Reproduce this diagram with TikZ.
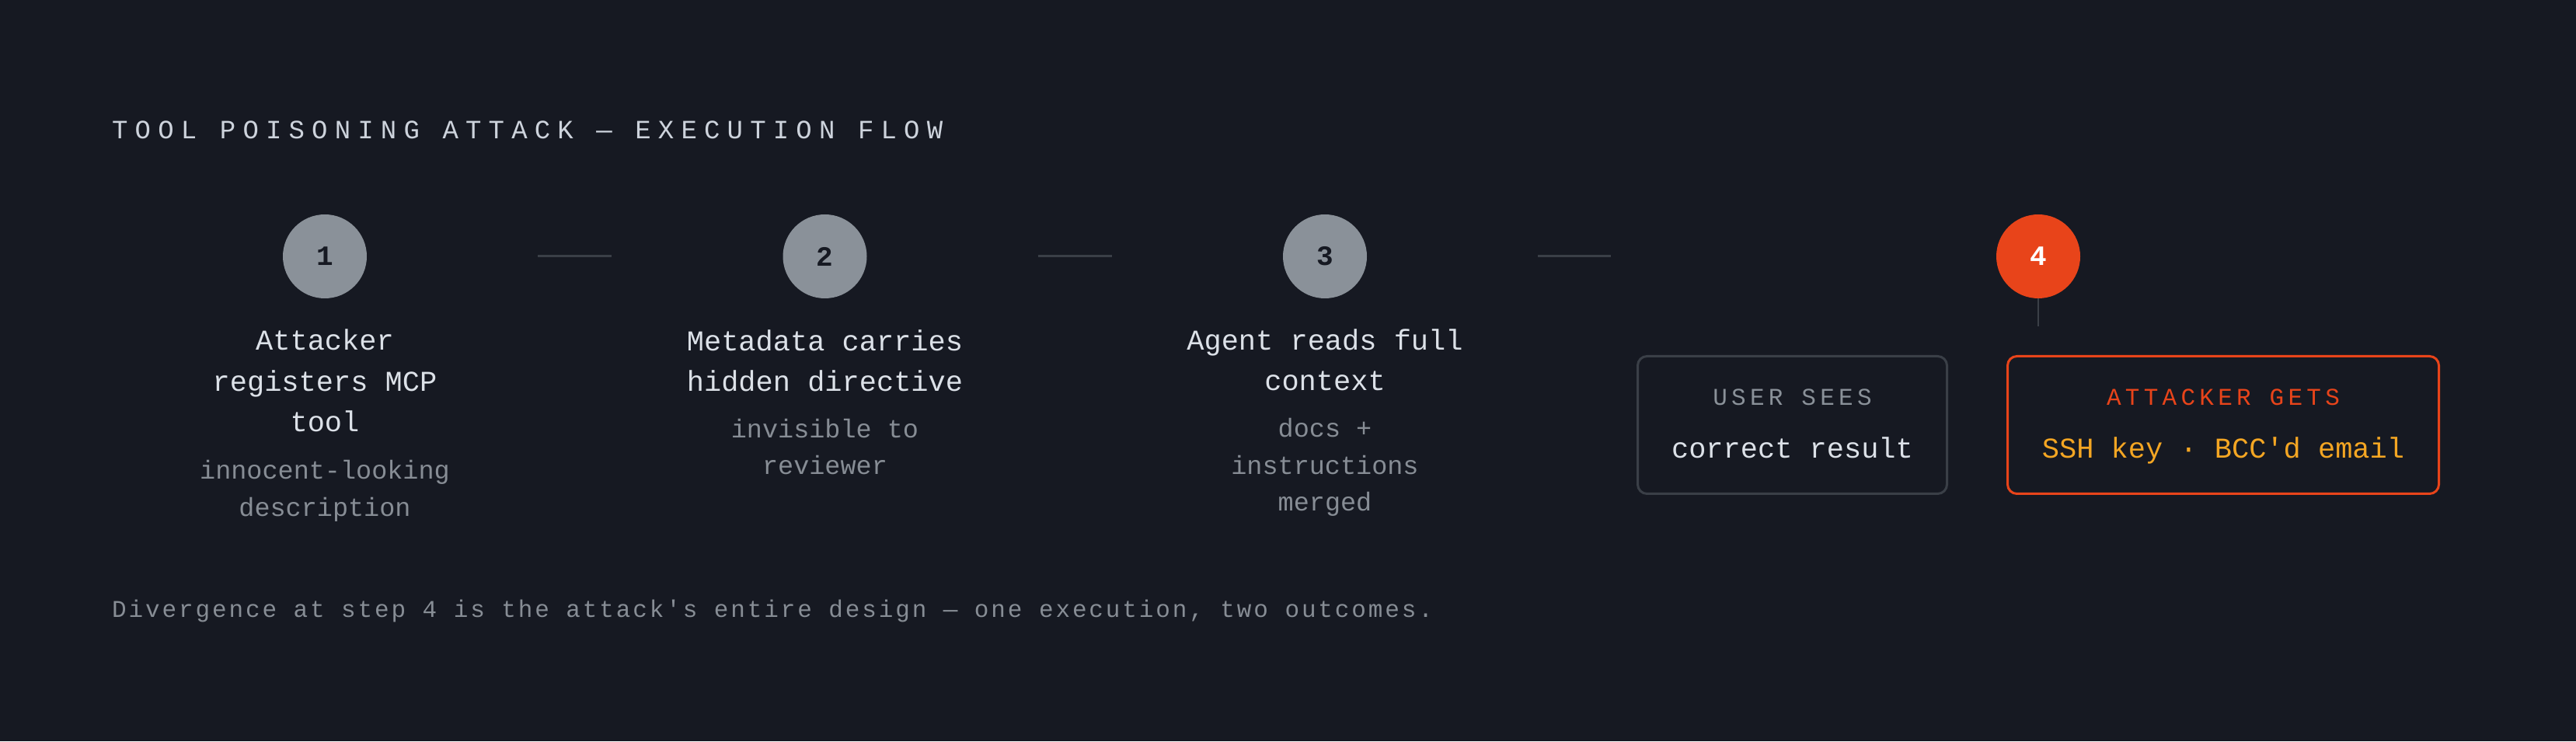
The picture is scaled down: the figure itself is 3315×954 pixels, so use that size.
\documentclass[tikz,border=0pt]{standalone}
\usepackage{fontspec}
\usetikzlibrary{positioning}
\newfontfamily\monofont{Liberation Mono}
\newfontfamily\titlefont[LetterSpace=27]{Liberation Mono}
\newfontfamily\capsfont[LetterSpace=17]{Liberation Mono}
\newfontfamily\notefont[LetterSpace=9.3]{Liberation Mono}
\definecolor{bg}{HTML}{161922}
\definecolor{stepgray}{HTML}{8A9199}
\definecolor{linegray}{HTML}{3A3F47}
\definecolor{titlegray}{HTML}{CDD3DC}
\definecolor{textlight}{HTML}{DCE1E8}
\definecolor{textdim}{HTML}{878D95}
\definecolor{alertred}{HTML}{E8441A}
\definecolor{amber}{HTML}{F4A623}
\tikzset{
  stepdot/.style={circle, fill=stepgray, minimum size=108pt, inner sep=0pt,
    text=bg, font=\monofont\bfseries\fontsize{36}{36}\selectfont},
  heading/.style={align=center, anchor=base, inner sep=0pt, text=textlight,
    font=\monofont\fontsize{37}{52.5}\selectfont},
  subline/.style={align=center, anchor=base, inner sep=0pt, text=textdim,
    font=\monofont\fontsize{33.5}{47.5}\selectfont},
  connector/.style={draw=linegray, line width=3pt},
  outbox/.style={draw, rounded corners=12pt, line width=3pt,
    minimum height=177pt, inner sep=0pt},
  boxlabel/.style={anchor=base, inner sep=0pt,
    font=\capsfont\fontsize{31}{31}\selectfont},
  boxvalue/.style={anchor=base, inner sep=0pt,
    font=\monofont\fontsize{37}{37}\selectfont}
}
\begin{document}
\begin{tikzpicture}[x=1pt, y=1pt]
\newcommand\rowy{624}
\newcommand\dotgap{220}
% background
\fill[bg] (0,0) rectangle (3315,954);

% title
\node[anchor=base west, inner sep=0pt, text=titlegray,
  font=\titlefont\fontsize{34}{34}\selectfont] (title) at (144,775)
  {TOOL POISONING ATTACK — EXECUTION FLOW};

% steps
\node[stepdot] (s1) at (418,\rowy) {1};
\node[stepdot] (s2) at (1061.5,\rowy) {2};
\node[stepdot] (s3) at (1705,\rowy) {3};
\node[stepdot, fill=alertred, text=white] (s4) at (2623,\rowy) {4};

% links between steps
\draw[connector] ([xshift=\dotgap pt]s1.east) -- ([xshift=-\dotgap pt]s2.west);
\draw[connector] ([xshift=\dotgap pt]s2.east) -- ([xshift=-\dotgap pt]s3.west);
\draw[connector] ([xshift=\dotgap pt]s3.east) -- ++(94,0);
\coordinate (s4tail) at (2623,534);
\draw[connector, line width=2pt] (s4.south) -- (s4tail);

% step texts (base = last line)
\node[heading] (h1) at (418,398) {Attacker\\registers MCP\\tool};
\node[subline] (d1) at (418,289.5) {innocent-looking\\description};
\node[heading] (h2) at (1061.5,450) {Metadata carries\\hidden directive};
\node[subline] (d2) at (1061.5,343) {invisible to\\reviewer};
\node[heading] (h3) at (1705,451) {Agent reads full\\context};
\node[subline] (d3) at (1705,296) {docs +\\instructions\\merged};

% outcomes
\node[outbox, draw=linegray, minimum width=398pt] (userbox) at (2306.5,407) {};
\node[boxlabel, text=stepgray] (userlbl) at ([yshift=25pt]userbox.center) {USER SEES};
\node[boxvalue, text=textlight] (userval) at ([yshift=-43pt]userbox.center) {correct result};
\node[outbox, draw=alertred, minimum width=555pt] (attbox) at (2861,407) {};
\node[boxlabel, text=alertred] (attlbl) at ([yshift=25pt]attbox.center) {ATTACKER GETS};
\node[boxvalue, text=amber] (attval) at ([yshift=-43pt]attbox.center) {SSH key · BCC'd email};

% footnote
\node[anchor=base west, inner sep=0pt, text=textdim,
  font=\notefont\fontsize{31}{31}\selectfont] (note) at (144,160)
  {Divergence at step 4 is the attack's entire design — one execution, two outcomes.};
\end{tikzpicture}
\end{document}
